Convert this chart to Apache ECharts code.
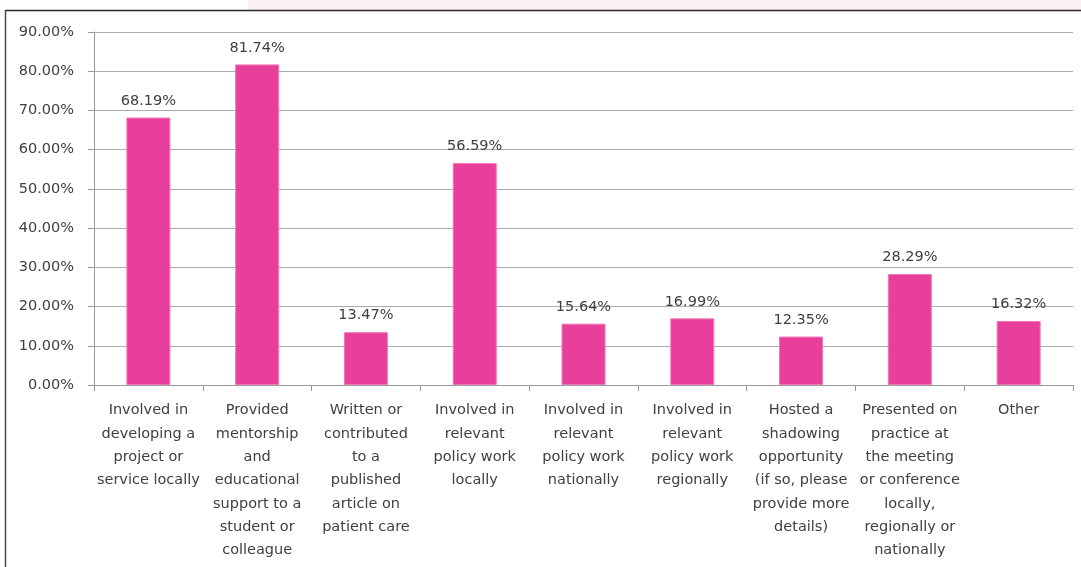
<!DOCTYPE html>
<html>
<head>
<meta charset="utf-8">
<script src="https://cdn.jsdelivr.net/npm/echarts@6/dist/echarts.min.js"></script>
<style>
html,body{margin:0;padding:0;background:#fff;}
#chart{width:1081px;height:567px;}
</style>
</head>
<body>
<div id="chart"></div>
<script>
const categories = [
  "Involved in\ndeveloping a\nproject or\nservice locally",
  "Provided\nmentorship\nand\neducational\nsupport to a\nstudent or\ncolleague",
  "Written or\ncontributed\nto a\npublished\narticle on\npatient care",
  "Involved in\nrelevant\npolicy work\nlocally",
  "Involved in\nrelevant\npolicy work\nnationally",
  "Involved in\nrelevant\npolicy work\nregionally",
  "Hosted a\nshadowing\nopportunity\n(if so, please\nprovide more\ndetails)",
  "Presented on\npractice at\nthe meeting\nor conference\nlocally,\nregionally or\nnationally",
  "Other"
];
const values = [68.19, 81.74, 13.47, 56.59, 15.64, 16.99, 12.35, 28.29, 16.32];
const yMin = 0, yMax = 90, yInterval = 10;

const FONT = '"DejaVu Sans", Verdana, sans-serif';
const TXT = '#404040';
const chart = echarts.init(document.getElementById('chart'), null, {renderer:'canvas'});
chart.setOption({
  animation: false,
  backgroundColor: '#ffffff',
  graphic: [
    {type:'rect', shape:{x:248, y:0, width:833, height:10}, style:{fill:'#fcf0f6'}, z:-1},
    {type:'line', shape:{x1:5, y1:10.5, x2:1081, y2:10.5}, style:{stroke:'#2b2b2b', lineWidth:1.5}},
    {type:'line', shape:{x1:5.5, y1:10, x2:5.5, y2:567}, style:{stroke:'#4a4a4a', lineWidth:1.5}}
  ],
  grid: {left: 94, right: 8, top: 32, bottom: 182, containLabel: false},
  xAxis: {
    type: 'category',
    data: categories,
    axisLine: {show: true, lineStyle: {color: '#9a9a9a', width: 1}},
    axisTick: {show: true, length: 6, lineStyle: {color: '#9a9a9a'}},
    axisLabel: {
      interval: 0, margin: 14, color: TXT, fontFamily: FONT, fontSize: 14.5,
      lineHeight: 23.3, verticalAlign: 'top', align: 'center'
    }
  },
  yAxis: {
    type: 'value', min: yMin, max: yMax, interval: yInterval,
    axisLine: {show: true, lineStyle: {color: '#9a9a9a', width: 1}},
    axisTick: {show: true, length: 6, lineStyle: {color: '#9a9a9a'}},
    splitLine: {show: true, lineStyle: {color: '#ababab', width: 1}},
    axisLabel: {
      margin: 20, color: TXT, fontFamily: FONT, fontSize: 14.5,
      formatter: v => v.toFixed(2) + '%'
    }
  },
  series: [{
    type: 'bar',
    data: values,
    barWidth: 44,
    itemStyle: {color: '#e8409a', borderColor: '#f277b6', borderWidth: 1},
    label: {
      show: true, position: 'top', distance: 9, color: TXT,
      fontFamily: FONT, fontSize: 14.5,
      formatter: p => p.value.toFixed(2) + '%'
    }
  }]
});
</script>
</body>
</html>
